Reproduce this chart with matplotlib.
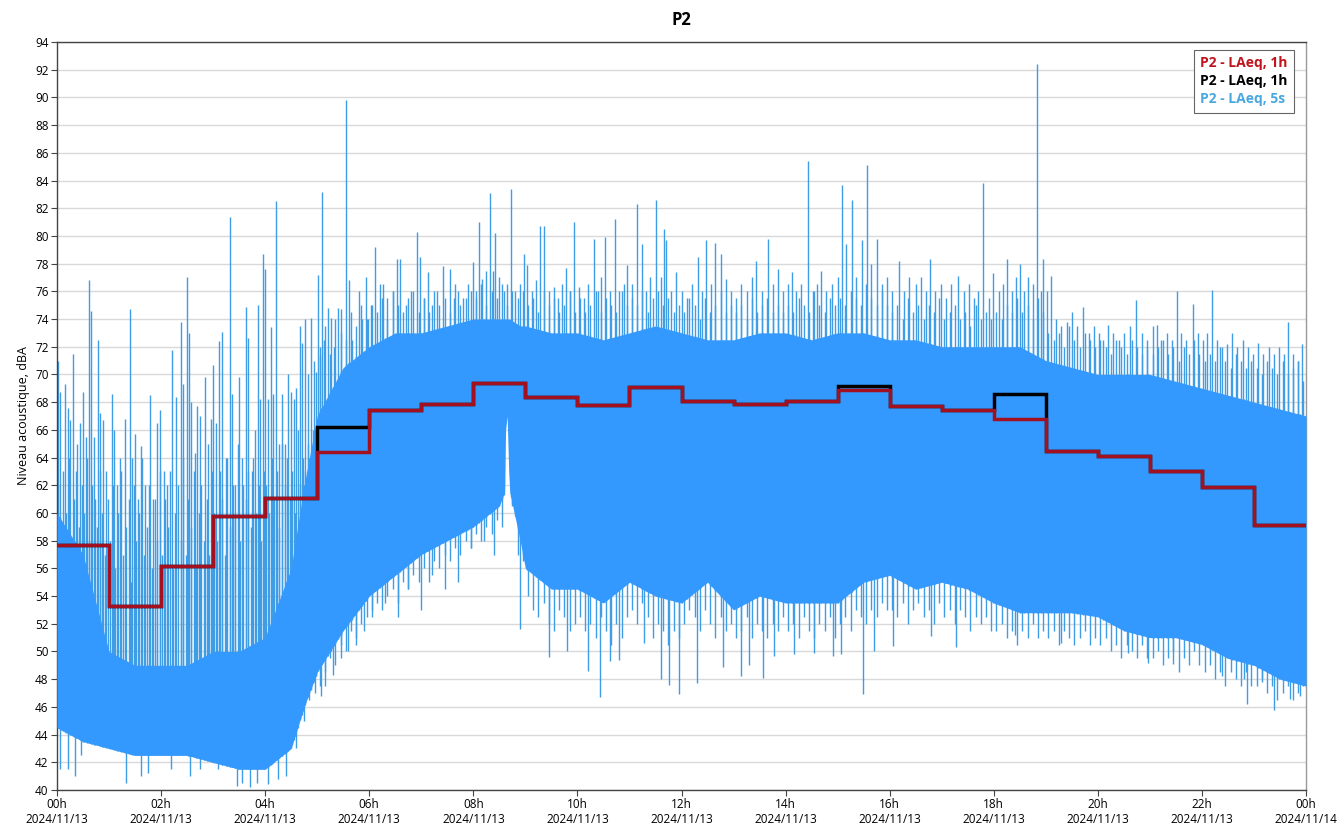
import numpy as np
import matplotlib
matplotlib.use("Agg")
import matplotlib.pyplot as plt

# hourly LAeq (dBA), one value per hour starting 00h
laeq_red = [57.7, 53.3, 56.2, 59.8, 61.1, 64.4, 67.4, 67.9, 69.4, 68.4, 67.8, 69.1,
            68.1, 67.9, 68.1, 68.9, 67.7, 67.4, 66.8, 64.5, 64.1, 63.0, 61.9, 59.1]
laeq_black = [57.7, 53.3, 56.2, 59.8, 61.1, 66.2, 67.4, 67.9, 69.4, 68.4, 67.8, 69.1,
              68.1, 67.9, 68.1, 69.2, 67.7, 67.4, 68.6, 64.5, 64.1, 63.0, 61.9, 59.1]

# LAeq 5s: dense core of the signal (hours, lower edge, upper edge)
band_t = [0, 0.5, 1, 1.5, 2, 2.5, 3, 3.5, 4, 4.5, 4.75, 5, 5.5, 6, 6.5, 7, 7.5, 8, 8.5,
          8.6, 8.62, 8.65, 8.68, 8.7, 8.9, 9, 9.5, 10, 10.5, 11, 11.5, 12, 12.5, 13, 13.5,
          14, 14.5, 15, 15.5, 16, 16.5, 17, 17.5, 18, 18.5, 19, 19.5, 20, 20.5, 21, 21.5,
          22, 22.5, 23, 23.5, 24]
band_lo = [44.5, 43.5, 43, 42.5, 42.5, 42.5, 42, 41.5, 41.5, 43, 46, 48.5, 51.5, 54, 55.5,
           57, 58, 59, 60.5, 61.5, 66, 67, 63, 61.5, 58, 56, 54.5, 54.5, 53.5, 55, 54, 53.5,
           55, 53, 54, 53.5, 53.5, 53.5, 55, 55.5, 54.5, 55, 54.5, 53.5, 52.8, 52.8, 52.8,
           52.5, 51.5, 51, 51, 50.5, 49.5, 49, 48, 47.5]
band_hi = [60, 57, 50, 49, 49, 49, 50, 50, 51, 56, 62, 67, 70.5, 72, 73, 73, 73.5, 74, 74,
           74, 74, 74, 74, 74, 73.5, 73.5, 73, 73, 72.5, 73, 73.5, 73, 72.5, 72.5, 73, 73,
           72.5, 73, 73, 72.5, 72.5, 72, 72, 72, 72, 71, 70.5, 70, 70, 70, 69.5, 69, 68.5,
           68, 67.5, 67]

# upward peaks of the 5s series (hours, dBA)
up_t = [0.02, 0.06, 0.15, 0.21, 0.25, 0.30, 0.38, 0.45, 0.50, 0.55, 0.62, 0.66, 0.72, 0.78,
        0.82, 0.88, 0.95, 1.05, 1.10, 1.15, 1.22, 1.30, 1.40, 1.45, 1.50, 1.56, 1.62, 1.70,
        1.79, 1.85, 1.92, 1.98, 2.05, 2.12, 2.22, 2.28, 2.38, 2.43, 2.50, 2.53, 2.58, 2.65,
        2.70, 2.75, 2.84, 2.90, 2.96, 3.00, 3.06, 3.12, 3.18, 3.24, 3.32, 3.36, 3.42, 3.50,
        3.55, 3.64, 3.67, 3.74, 3.80, 3.86, 3.90, 3.95, 3.99, 4.05, 4.11, 4.16, 4.21, 4.26,
        4.32, 4.38, 4.44, 4.50, 4.55, 4.60, 4.67, 4.70, 4.76, 4.82, 4.88, 4.93, 4.97,
        5.01, 5.05, 5.10, 5.14, 5.20, 5.26, 5.32, 5.40, 5.46, 5.55, 5.62, 5.66, 5.72, 5.80,
        5.86, 5.93, 5.98, 6.04, 6.11, 6.20, 6.26, 6.35, 6.45, 6.53, 6.59,
        6.70, 6.80, 6.91, 6.98, 7.05, 7.12, 7.20, 7.30, 7.41, 7.55, 7.62, 7.70, 7.80, 7.90,
        7.99, 8.05, 8.10, 8.17, 8.24, 8.32, 8.38, 8.42, 8.50, 8.58, 8.65, 8.72, 8.80, 8.90,
        8.97, 9.03, 9.12, 9.20, 9.28, 9.36, 9.45, 9.55, 9.62, 9.70, 9.78, 9.85, 9.93, 10.03,
        10.12, 10.20, 10.31, 10.40, 10.46, 10.53, 10.62, 10.72, 10.80, 10.90, 10.95, 11.05,
        11.15, 11.25, 11.32, 11.40, 11.51, 11.60, 11.66, 11.70, 11.80, 11.90, 12.00, 12.10,
        12.20, 12.32, 12.40, 12.48, 12.56, 12.64, 12.75, 12.85, 12.95, 13.05, 13.15, 13.25,
        13.35, 13.44, 13.55, 13.67, 13.75, 13.86, 13.95, 14.05, 14.12, 14.20, 14.30, 14.43,
        14.52, 14.60, 14.68, 14.78, 14.90, 15.00, 15.08, 15.17, 15.27, 15.35, 15.47, 15.56,
        15.65, 15.75, 15.85, 15.95, 16.05, 16.18, 16.28, 16.38, 16.50, 16.60, 16.70, 16.78,
        16.88, 16.98, 17.08, 17.18, 17.32, 17.42, 17.52, 17.62, 17.70, 17.80, 17.90, 17.99,
        18.10, 18.18, 18.26, 18.35, 18.42, 18.50, 18.58, 18.66, 18.75, 18.83, 18.90, 18.95,
        19.03, 19.10, 19.20, 19.30, 19.40, 19.50, 19.60, 19.72, 19.82, 19.92, 20.02, 20.10,
        20.20, 20.30, 20.40, 20.50, 20.62, 20.73, 20.85, 20.95, 21.05, 21.13, 21.22, 21.32,
        21.42, 21.52, 21.60, 21.70, 21.82, 21.92, 22.02, 22.10, 22.19, 22.28, 22.38, 22.48,
        22.58, 22.68, 22.78, 22.88, 22.98, 23.08, 23.18, 23.28, 23.38, 23.48, 23.58, 23.66,
        23.75, 23.85, 23.92]
up_v = [71.0, 68.7, 69.3, 67.6, 66.7, 71.5, 65.0, 66.5, 68.7, 65.5, 76.8, 74.6, 65.5, 72.5,
        67.2, 66.7, 63.0, 68.6, 66.0, 62.0, 64.0, 66.8, 74.7, 64.0, 65.7, 61.0, 64.8, 62.0,
        68.5, 61.0, 66.5, 67.4, 63.0, 62.0, 71.8, 68.4, 73.8, 69.3, 77.0, 73.0, 68.0, 64.3,
        67.7, 67.0, 69.8, 65.0, 66.8, 70.7, 66.5, 72.4, 73.1, 64.0, 81.4, 68.6, 62.0, 69.8,
        64.0, 74.9, 72.6, 63.0, 66.0, 75.0, 68.2, 78.7, 77.6, 68.2, 73.4, 68.6, 82.5, 65.0,
        68.6, 65.0, 70.0, 68.7, 68.2, 69.0, 73.5, 72.3, 74.0, 70.0, 74.1, 71.0, 70.2,
        77.2, 71.4, 83.2, 72.5, 74.8, 74.1, 72.0, 74.8, 74.7, 89.8, 76.8, 72.5, 71.0, 76.0,
        74.0, 77.0, 74.0, 75.0, 79.2, 76.5, 76.5, 75.5, 76.0, 78.3, 78.3,
        75.0, 76.0, 80.3, 78.5, 75.5, 77.4, 75.0, 76.0, 77.8, 77.6, 75.5, 76.0, 75.5, 76.5,
        78.1, 76.0, 81.0, 76.9, 77.5, 83.1, 77.5, 80.2, 77.0, 76.0, 76.5, 83.4, 76.0, 76.5,
        78.7, 77.9, 76.0, 76.8, 80.7, 80.7, 76.0, 76.3, 75.5, 76.5, 77.7, 76.0, 81.0, 76.3,
        75.5, 76.5, 79.8, 76.0, 77.0, 79.9, 76.0, 81.2, 76.0, 76.5, 77.9, 76.5,
        82.3, 79.4, 76.0, 77.0, 82.6, 77.0, 80.5, 79.7, 76.0, 77.4, 76.0, 75.5,
        76.5, 78.5, 76.0, 79.7, 76.5, 79.5, 78.7, 76.9, 76.0, 75.5, 76.5, 76.0,
        77.0, 78.2, 76.0, 79.8, 76.5, 77.6, 76.0, 76.5, 77.4, 76.0, 76.5, 85.4,
        76.0, 76.5, 77.5, 76.0, 76.5, 77.0, 83.7, 79.4, 82.6, 77.0, 79.7, 85.1,
        78.0, 79.8, 76.5, 77.0, 76.0, 78.2, 76.0, 77.0, 76.5, 77.0, 76.0, 78.3,
        76.0, 76.5, 75.5, 76.5, 77.1, 76.0, 76.5, 75.5, 76.0, 83.8, 75.5, 77.3,
        76.0, 76.5, 78.3, 76.0, 77.0, 78.0, 76.0, 77.0, 76.5, 92.4, 76.0, 78.3,
        76.0, 77.1, 74.0, 73.5, 73.8, 74.5, 73.5, 74.9, 73.0, 73.5, 73.0, 72.5,
        73.6, 73.0, 72.5, 73.0, 73.5, 75.4, 73.0, 72.5, 73.5, 73.6, 72.5, 73.0,
        72.5, 76.0, 73.0, 72.5, 75.1, 73.0, 72.5, 73.0, 76.1, 72.5, 72.0, 72.2,
        73.0, 72.0, 72.5, 72.0, 71.5, 72.3, 71.5, 72.0, 71.5, 72.0, 71.5, 73.8,
        71.5, 71.0, 72.2]

# short peaks between 00h and 05h, one every 3 minutes from 00h01
night_peaks = [62, 59, 63, 60, 64, 58, 61, 63, 59, 62, 60, 64, 58, 62, 61, 59, 63, 60, 57, 61,
               58, 62, 56, 60, 63, 57, 59, 61, 55, 62, 58, 60, 64, 57, 59, 62, 56, 61, 58, 63,
               57, 61, 59, 63, 56, 60, 62, 58, 64, 57, 61, 59, 63, 56, 60, 62, 58, 61, 57, 63,
               60, 58, 63, 61, 57, 64, 59, 62, 60, 65, 58, 62, 61, 63, 59, 64, 60, 62, 58, 63,
               62, 60, 64, 61, 63, 59, 65, 62, 64, 61, 63, 60, 66, 62, 64, 63, 65, 62, 66, 64]

# ragged upper edge after 05h, one value every 6 minutes from 05h03
edge_hi = [72, 73.5, 71.5, 74, 73, 72.5, 74.5, 73.5, 75, 74,
           75, 74.5, 75.5, 74, 76, 75, 74.5, 75.5, 76, 74.5,
           75.5, 74.5, 76, 75, 75.5, 74.5, 76.5, 75, 75.5, 76,
           75.5, 76.5, 75, 76, 75.5, 76.5, 75, 76, 75.5, 76,
           75, 75.5, 74.5, 76, 75, 75.5, 74.5, 75, 76, 74.5,
           75.5, 74.5, 75, 76, 74.5, 75.5, 75, 74.5, 76, 75,
           75.5, 75, 76, 74.5, 75.5, 76, 75, 75.5, 74.5, 75,
           74.5, 75.5, 75, 74, 75.5, 74.5, 75, 76, 74.5, 75,
           74.5, 75, 74, 75.5, 74.5, 75, 75.5, 74.5, 75, 74.5,
           75, 74.5, 75.5, 75, 74.5, 76, 75, 74.5, 75.5, 75,
           75.5, 75, 76, 75.5, 75, 76.5, 75.5, 75, 76, 75,
           74.5, 75, 74, 75.5, 74.5, 75, 74, 75, 74.5, 75.5,
           74, 74.5, 75, 74, 74.5, 73.5, 75, 74, 74.5, 74,
           74.5, 74, 75, 74.5, 75.5, 74.5, 75, 74, 75.5, 74.5,
           73, 72.5, 73, 72, 73.5, 72.5, 72, 73, 72.5, 72,
           72.5, 72, 71.5, 72.5, 72, 71.5, 72.5, 72, 71.5, 72,
           71.5, 72, 72.5, 71.5, 72, 71, 72, 71.5, 72.5, 71.5,
           71, 71.5, 71, 72, 71, 70.5, 71.5, 71, 70.5, 71,
           70.5, 70, 71, 70.5, 70, 71, 70, 70.5, 71, 69.5]

# ragged lower edge after 05h, one value every 6 minutes from 05h03
edge_lo = [47.5, 48.5, 49.5, 49, 50.5, 50, 51.5, 51, 52, 52.5,
           52.5, 53.5, 53, 54, 54.5, 53.5, 55, 54.5, 55.5, 55,
           56, 55, 56.5, 56, 57, 56.5, 57.5, 57, 58, 57.5,
           58.5, 58, 59, 58.5, 59.5, 59, 67.5, 60.5, 57, 56.5,
           54, 53, 52.5, 53.5, 52, 51.5, 53, 52.5, 51.5, 52,
           52.5, 51.5, 52, 51, 52.5, 51.5, 50.5, 52, 51, 52.5,
           53, 52, 53.5, 52.5, 51, 52, 51.5, 50.5, 51.5, 51,
           52, 53, 52.5, 51.5, 53, 52, 51, 52.5, 51.5, 52,
           51, 51.5, 52.5, 51, 52, 51.5, 51, 52, 51.5, 52.5,
           51.5, 52, 51, 52.5, 51.5, 51, 52, 51.5, 52.5, 51,
           52, 52.5, 51.5, 53, 52.5, 52, 53, 52.5, 53.5, 53,
           53, 52.5, 53.5, 52, 53, 53.5, 52.5, 53, 52, 53.5,
           52.5, 53, 52, 53, 52.5, 51.5, 52.5, 52, 52.5, 51.5,
           51.5, 52, 51, 51.5, 50.5, 51.5, 51, 52, 51, 51.5,
           51, 51.5, 50.5, 51.5, 51, 50.5, 51, 51.5, 50.5, 51,
           50.5, 51, 50, 50.5, 49.5, 50.5, 50, 49.5, 50.5, 49.5,
           49.5, 50, 49, 49.5, 50, 48.5, 49.5, 49, 50, 49,
           48.5, 49, 48, 48.5, 47.5, 48.5, 48, 47.5, 48.5, 47.5,
           47.5, 48, 47, 47.5, 46.5, 47, 47.5, 46.5, 47, 47.5]

# downward dips of the 5s series (hours, dBA)
dn_t = [0.05, 0.22, 0.35, 0.47, 1.33, 1.62, 1.75, 2.20, 2.55, 2.75, 3.10, 3.45, 3.55, 3.70,
        3.85, 4.05, 4.25, 4.40, 4.60, 4.75, 4.85, 4.95,
        5.08, 5.15, 5.30, 5.45, 5.60, 5.75, 5.90, 6.05, 6.30, 6.55, 6.75, 7.00, 7.20, 7.45,
        7.70, 7.95, 8.20, 8.40, 8.90, 9.45, 9.80, 10.20, 10.44, 10.63, 10.80, 11.27, 11.60,
        11.76, 11.96, 12.29, 12.80, 13.14, 13.30, 13.57, 13.78, 14.16, 14.55, 14.92, 15.06,
        15.49, 15.70, 16.06, 16.80, 17.28, 18.41, 19.30, 20.58, 20.97, 21.45, 22.38, 22.80,
        22.86, 23.15, 23.39, 23.69, 23.88]
dn_v = [41.5, 41.5, 41.0, 42.5, 40.5, 41.0, 41.2, 41.5, 41.0, 41.5, 41.5, 40.3, 40.5, 40.2,
        40.5, 40.4, 40.8, 41.0, 43.0, 45.0, 46.5, 47.0,
        46.8, 47.5, 48.3, 49.5, 50.0, 50.5, 51.5, 53.0, 53.5, 52.5, 54.5, 53.0, 55.5, 54.5,
        55.0, 57.5, 58.0, 57.0, 51.6, 49.6, 50.0, 48.6, 46.7, 49.3, 49.4, 50.6, 48.0,
        47.6, 46.9, 47.7, 48.9, 48.2, 49.0, 48.1, 49.7, 49.8, 49.9, 49.7, 49.8,
        46.9, 50.0, 50.4, 51.1, 50.3, 51.2, 50.6, 49.9, 49.2, 49.1, 48.2, 48.0,
        46.2, 47.8, 45.8, 46.6, 46.8]

hour_ticks = list(range(0, 25, 2))
tick_labels = ["%02dh\n2024/11/13" % h for h in hour_ticks[:-1]] + ["00h\n2024/11/14"]

plt.rcParams['font.family'] = ['Open Sans', 'DejaVu Sans']

fig = plt.figure(figsize=(13.43, 8.35), dpi=100)
ax = fig.add_axes([0.0424, 0.0539, 0.9301, 0.8958])

blue = '#3399ff'
spike = '#3f9de6'
night_t = np.arange(0.025, 5, 0.05)
edge_t = np.arange(5.05, 24, 0.1)

# dense core drawn over the single peaks so the band stays uniform
ax.fill_between(band_t, band_lo, band_hi, color=blue, linewidth=0, zorder=3)
for tt, vv in [(up_t, up_v), (night_t, night_peaks), (edge_t, edge_hi)]:
    ax.vlines(tt, np.interp(tt, band_t, band_lo), vv, color=spike, linewidth=1.0, zorder=2)
for tt, vv in [(dn_t, dn_v), (edge_t, edge_lo)]:
    ax.vlines(tt, vv, np.interp(tt, band_t, band_hi), color=spike, linewidth=1.0, zorder=2)

edges = np.arange(25)
ax.step(edges, laeq_black + laeq_black[-1:], where='post', color='black',
        linewidth=2.5, solid_joinstyle='miter', zorder=4)
ax.step(edges, laeq_red + laeq_red[-1:], where='post', color='#a3101f',
        linewidth=2.5, solid_joinstyle='miter', zorder=5)

ax.set_xlim(0, 24)
ax.set_ylim(40, 94)
ax.set_yticks(range(40, 95, 2))
ax.set_xticks(hour_ticks)
ax.set_xticklabels(tick_labels)
ax.tick_params(labelsize=8.5, length=4, color='#444444', pad=2)
ax.grid(axis='y', color='#d9d9d9', linewidth=1.0, zorder=0)
ax.set_axisbelow(True)
for s in ax.spines.values():
    s.set_color('#444444')
    s.set_linewidth(1.0)
ax.spines['right'].set_color('#999999')

ax.set_ylabel("Niveau acoustique, dBA", fontsize=9, labelpad=4)
ax.set_title("P2", fontsize=12, fontweight='bold', pad=12)

# legend: text only, coloured like the series
h1, = ax.plot([], [], color='#a3101f')
h2, = ax.plot([], [], color='black')
h3, = ax.plot([], [], color=blue)
leg = ax.legend([h1, h2, h3], ["P2 - LAeq, 1h", "P2 - LAeq, 1h", "P2 - LAeq, 5s"],
                loc='upper right', handlelength=0, handletextpad=0,
                labelcolor=['#c0141e', 'black', '#4aa8e0'],
                prop={'size': 10, 'weight': 'bold'}, fancybox=False,
                framealpha=1, edgecolor='#666666', borderpad=0.45,
                labelspacing=0.3, bbox_to_anchor=(0.9955, 0.999))
leg.set_zorder(6)
for h in leg.legend_handles:
    h.set_visible(False)
leg.get_frame().set_linewidth(0.8)

fig.savefig("out.png", dpi=100)
